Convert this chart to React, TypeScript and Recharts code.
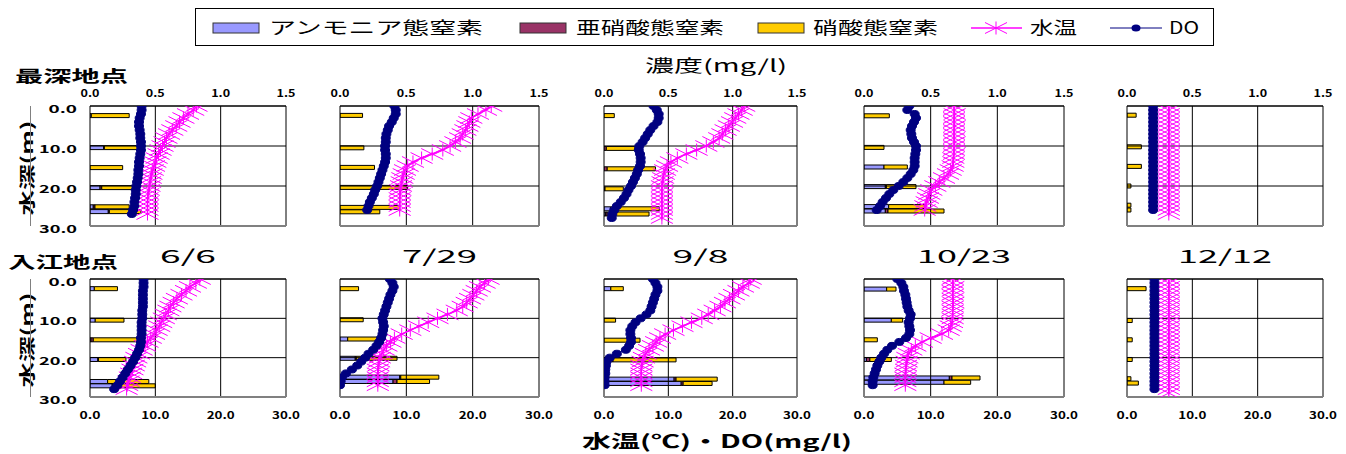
import React from 'react';
import { ComposedChart, Bar, Line, XAxis, YAxis, ReferenceLine } from 'recharts';

// depth (m) of the CTD profile points, shared by every panel
const profileDepth = [0, 1, 2, 3, 4, 5, 6, 7, 8, 9, 10, 11, 12, 13, 14, 15, 16, 17, 18, 19, 20, 21, 22, 23, 24, 25, 26, 27, 28, 29];

const dates = ['6/6', '7/29', '9/8', '10/23', '12/12'];
const concTicks = [0, 0.5, 1.0, 1.5];
const tempTicks = [0, 10, 20, 30];
const depthTicks = [0, 10, 20, 30];

// 最深地点 : 水温 / DO
const deepTemp0606 = [16.3, 15.8, 15.0, 14.3, 13.7, 13.2, 12.6, 12.1, 11.7, 11.4, 11.1, 10.8, 10.5, 10.2, 10.0, 9.8, 9.6, 9.4, 9.3, 9.2, 9.1, 9.0, 8.9, 8.8, 8.8, 8.8, 8.8, 8.8];
const deepDO0606 = [7.9, 7.9, 7.8, 7.6, 7.5, 7.5, 7.6, 7.7, 7.7, 7.8, 7.8, 7.8, 7.7, 7.6, 7.5, 7.5, 7.4, 7.4, 7.3, 7.2, 7.1, 7.0, 7.0, 6.9, 6.8, 6.8, 6.6, 6.4];
const deepTemp0729 = [22.8, 22.0, 20.8, 19.8, 19.5, 19.2, 18.9, 18.5, 18.1, 17.4, 16.6, 15.5, 13.9, 12.3, 11.0, 10.2, 9.8, 9.6, 9.4, 9.3, 9.2, 9.1, 9.0, 9.0, 9.0, 9.0, 9.0];
const deepDO0729 = [8.2, 8.4, 8.4, 8.1, 7.8, 7.4, 7.2, 7.0, 6.9, 6.9, 6.8, 6.8, 6.9, 6.9, 6.8, 6.6, 6.4, 6.2, 6.0, 5.8, 5.6, 5.3, 5.1, 4.8, 4.5, 4.3, 4.1];
const deepTemp0908 = [21.8, 21.4, 20.9, 20.4, 19.9, 19.4, 18.9, 18.4, 17.9, 17.0, 15.9, 14.4, 12.8, 11.4, 10.4, 9.8, 9.5, 9.3, 9.2, 9.1, 9.0, 9.0, 9.0, 9.0, 9.0, 9.0, 9.0, 9.0, 9.0];
const deepDO0908 = [7.7, 8.2, 8.5, 8.5, 8.3, 7.7, 7.2, 6.8, 6.4, 6.0, 5.5, 5.4, 5.6, 5.7, 5.7, 5.6, 5.3, 5.1, 4.8, 4.5, 4.2, 3.8, 3.5, 3.1, 2.6, 2.0, 1.6, 1.3, 1.2];
const deepTemp1023 = [13.5, 13.5, 13.6, 13.5, 13.5, 13.6, 13.5, 13.5, 13.5, 13.6, 13.5, 13.5, 13.5, 13.4, 13.4, 13.3, 13.0, 12.6, 12.0, 11.3, 10.7, 10.1, 9.8, 9.6, 9.4, 9.2, 9.1];
const deepDO1023 = [6.8, 6.5, 7.6, 7.8, 7.5, 7.2, 7.0, 7.1, 7.2, 7.5, 7.8, 7.8, 7.7, 7.6, 7.6, 7.6, 7.4, 7.0, 6.5, 5.9, 5.2, 4.4, 3.8, 3.3, 2.8, 2.4, 1.9];
const deepTemp1212 = [6.4, 6.4, 6.4, 6.4, 6.4, 6.4, 6.4, 6.4, 6.4, 6.4, 6.4, 6.4, 6.4, 6.4, 6.4, 6.4, 6.4, 6.4, 6.4, 6.4, 6.4, 6.4, 6.4, 6.4, 6.4, 6.4, 6.4, 6.4];
const deepDO1212 = [4.0, 4.0, 4.0, 4.0, 4.0, 4.0, 4.0, 4.0, 4.0, 4.0, 4.0, 4.0, 4.0, 4.0, 4.0, 4.0, 4.0, 4.0, 4.0, 4.0, 4.0, 4.0, 4.0, 4.0, 4.0, 4.0, 4.0];

// 入江地点 : 水温 / DO
const bayTemp0606 = [16.8, 16.2, 15.3, 14.7, 14.0, 13.3, 12.8, 12.3, 12.0, 11.6, 11.3, 10.9, 10.6, 10.2, 9.8, 9.3, 8.8, 8.4, 7.9, 7.5, 7.1, 6.9, 6.7, 6.5, 6.3, 6.1, 5.9, 5.7, 5.6];
const bayDO0606 = [8.2, 8.2, 8.2, 8.1, 8.1, 8.1, 8.1, 8.1, 8.0, 8.0, 8.0, 7.9, 7.9, 7.9, 7.9, 7.8, 7.8, 7.7, 7.5, 7.2, 6.9, 6.6, 6.2, 5.8, 5.4, 5.0, 4.6, 4.2, 3.7];
const bayTemp0729 = [22.4, 21.8, 21.1, 20.6, 20.1, 19.6, 19.1, 18.5, 17.6, 16.2, 14.7, 13.3, 11.9, 10.6, 9.3, 8.2, 7.6, 7.0, 6.6, 6.3, 6.0, 5.9, 5.8, 5.7, 5.7, 5.7, 5.7, 5.7];
const bayDO0729 = [7.5, 7.9, 8.1, 7.9, 7.6, 7.4, 7.2, 7.0, 6.8, 6.6, 6.4, 6.5, 6.6, 6.5, 6.4, 6.2, 5.9, 5.5, 5.0, 4.3, 3.8, 3.2, 2.6, 1.8, 0.9, 0.3, 0.1, 0.0];
const bayTemp0908 = [22.8, 22.5, 21.6, 20.9, 20.2, 19.5, 18.8, 18.1, 17.2, 16.2, 15.2, 13.6, 12.2, 10.8, 9.5, 8.7, 8.1, 7.6, 7.0, 6.5, 6.2, 6.0, 5.8, 5.8, 5.8, 5.8, 5.8, 5.8];
const bayDO0908 = [7.6, 8.0, 8.3, 8.3, 8.0, 7.8, 7.6, 7.4, 7.2, 6.6, 5.7, 4.9, 4.4, 4.1, 4.1, 4.2, 4.2, 3.9, 3.4, 2.0, 0.9, 0.4, 0.3, 0.2, 0.2, 0.1, 0.1, 0.1];
const bayTemp1023 = [13.3, 13.3, 13.4, 13.3, 13.3, 13.3, 13.4, 13.3, 13.3, 13.3, 13.3, 13.2, 13.0, 12.7, 11.7, 10.0, 8.7, 7.7, 7.1, 6.7, 6.5, 6.4, 6.3, 6.3, 6.2, 6.2, 6.2, 6.2];
const bayDO1023 = [5.0, 5.6, 5.9, 6.0, 6.2, 6.3, 6.4, 6.5, 6.7, 7.0, 6.9, 6.7, 6.8, 6.9, 6.8, 6.3, 5.3, 4.2, 3.5, 3.0, 2.6, 2.3, 2.0, 1.8, 1.6, 1.4, 1.3, 1.3];
const bayTemp1212 = [6.4, 6.4, 6.4, 6.4, 6.4, 6.4, 6.4, 6.4, 6.4, 6.4, 6.4, 6.4, 6.4, 6.4, 6.4, 6.4, 6.4, 6.4, 6.4, 6.4, 6.4, 6.4, 6.4, 6.4, 6.4, 6.4, 6.4, 6.4, 6.4, 6.4];
const bayDO1212 = [4.2, 4.2, 4.2, 4.2, 4.2, 4.2, 4.2, 4.2, 4.2, 4.2, 4.2, 4.2, 4.2, 4.2, 4.2, 4.2, 4.2, 4.2, 4.2, 4.2, 4.2, 4.2, 4.2, 4.2, 4.2, 4.2, 4.2, 4.2, 4.2];

// 窒素 (mg/l) : sampling depth, アンモニア態 / 亜硝酸態 / 硝酸態
const deepBarDepth0606 = [2.5, 10.5, 15.5, 20.5, 25.3, 26.5];
const deepNH4_0606 = [0.01, 0.105, 0, 0.077, 0.025, 0.14];
const deepNO2_0606 = [0, 0.005, 0, 0.013, 0.013, 0.008];
const deepNO3_0606 = [0.29, 0.255, 0.25, 0.24, 0.262, 0.242];
const deepBarDepth0729 = [2.4, 10.5, 15.4, 20.4, 25.4, 26.5];
const deepNH4_0729 = [0, 0, 0, 0, 0, 0];
const deepNO2_0729 = [0, 0, 0, 0, 0, 0];
const deepNO3_0729 = [0.17, 0.18, 0.26, 0.51, 0.45, 0.3];
const deepBarDepth0908 = [2.3, 10.5, 15.6, 20.6, 25.6, 26.9];
const deepNH4_0908 = [0, 0, 0, 0, 0.05, 0.013];
const deepNO2_0908 = [0, 0.018, 0.025, 0.008, 0, 0.012];
const deepNO3_0908 = [0.08, 0.222, 0.375, 0.142, 0.38, 0.325];
const deepBarDepth1023 = [2.5, 10.4, 15.3, 20.2, 25.2, 26.3];
const deepNH4_1023 = [0, 0, 0.15, 0.16, 0.185, 0.16];
const deepNO2_1023 = [0, 0, 0, 0.008, 0, 0.02];
const deepNO3_1023 = [0.19, 0.15, 0.175, 0.222, 0.27, 0.42];
const deepBarDepth1212 = [2.4, 10.3, 15.2, 20.1, 24.9, 26.1];
const deepNH4_1212 = [0, 0, 0, 0, 0, 0];
const deepNO2_1212 = [0, 0, 0, 0, 0, 0];
const deepNO3_1212 = [0.07, 0.11, 0.11, 0.03, 0.03, 0.03];

const bayBarDepth0606 = [2.5, 10.5, 15.5, 20.5, 26.1, 27.2];
const bayNH4_0606 = [0.033, 0.04, 0.008, 0.06, 0.135, 0.17];
const bayNO2_0606 = [0, 0, 0.017, 0.005, 0, 0.005];
const bayNO3_0606 = [0.177, 0.22, 0.34, 0.21, 0.315, 0.325];
const bayBarDepth0729 = [2.5, 10.4, 15.3, 20.2, 25.0, 26.1];
const bayNH4_0729 = [0, 0, 0.058, 0.115, 0.45, 0.4];
const bayNO2_0729 = [0, 0, 0, 0.008, 0.008, 0.03];
const bayNO3_0729 = [0.14, 0.175, 0.222, 0.307, 0.287, 0.245];
const bayBarDepth0908 = [2.5, 10.5, 15.6, 20.6, 25.5, 26.6];
const bayNH4_0908 = [0.053, 0, 0, 0.01, 0.545, 0.6];
const bayNO2_0908 = [0, 0, 0, 0.06, 0.015, 0.015];
const bayNO3_0908 = [0.097, 0.09, 0.28, 0.49, 0.32, 0.225];
const bayBarDepth1023 = [2.6, 10.5, 15.5, 20.5, 25.2, 26.3];
const bayNH4_1023 = [0.17, 0.205, 0, 0.018, 0.64, 0.6];
const bayNO2_1023 = [0, 0, 0, 0.026, 0.02, 0];
const bayNO3_1023 = [0.07, 0.085, 0.1, 0.161, 0.21, 0.2];
const bayBarDepth1212 = [2.5, 10.6, 15.5, 20.5, 25.4, 26.5];
const bayNH4_1212 = [0, 0, 0, 0, 0, 0];
const bayNO2_1212 = [0, 0, 0, 0, 0, 0];
const bayNO3_1212 = [0.146, 0.04, 0.04, 0.04, 0.03, 0.087];

const legendItems = ['アンモニア態窒素', '亜硝酸態窒素', '硝酸態窒素', '水温', 'DO'];

const C_NH4 = '#9999FF';
const C_NO2 = '#993366';
const C_NO3 = '#FFCC00';
const C_TEMP = '#FF00FF';
const C_DO = '#000080';
const FONT = "'Noto Sans CJK JP', 'Noto Sans', sans-serif";

type Row = { depth?: number; temp?: number; do?: number; barDepth?: number; nh4?: number; no2?: number; no3?: number };

function buildRows(temp: number[], dox: number[], barDepth: number[], nh4: number[], no2: number[], no3: number[]): Row[] {
  const rows: Row[] = [];
  const n = Math.max(temp.length, dox.length);
  for (let i = 0; i < n; i++) rows.push({ depth: profileDepth[i], temp: temp[i], do: dox[i] });
  barDepth.forEach((d, i) => rows.push({ barDepth: d, nh4: nh4[i], no2: no2[i], no3: no3[i] }));
  return rows;
}

const panels: Row[][][] = [
  [
    buildRows(deepTemp0606, deepDO0606, deepBarDepth0606, deepNH4_0606, deepNO2_0606, deepNO3_0606),
    buildRows(deepTemp0729, deepDO0729, deepBarDepth0729, deepNH4_0729, deepNO2_0729, deepNO3_0729),
    buildRows(deepTemp0908, deepDO0908, deepBarDepth0908, deepNH4_0908, deepNO2_0908, deepNO3_0908),
    buildRows(deepTemp1023, deepDO1023, deepBarDepth1023, deepNH4_1023, deepNO2_1023, deepNO3_1023),
    buildRows(deepTemp1212, deepDO1212, deepBarDepth1212, deepNH4_1212, deepNO2_1212, deepNO3_1212),
  ],
  [
    buildRows(bayTemp0606, bayDO0606, bayBarDepth0606, bayNH4_0606, bayNO2_0606, bayNO3_0606),
    buildRows(bayTemp0729, bayDO0729, bayBarDepth0729, bayNH4_0729, bayNO2_0729, bayNO3_0729),
    buildRows(bayTemp0908, bayDO0908, bayBarDepth0908, bayNH4_0908, bayNO2_0908, bayNO3_0908),
    buildRows(bayTemp1023, bayDO1023, bayBarDepth1023, bayNH4_1023, bayNO2_1023, bayNO3_1023),
    buildRows(bayTemp1212, bayDO1212, bayBarDepth1212, bayNH4_1212, bayNO2_1212, bayNO3_1212),
  ],
];

// plot-area placement of the 5 columns / 2 rows
const colX = [90, 340, 604, 864, 1127];
const colW = [196, 199, 193, 200, 196];
const rowY = [106, 279];
const rowH = [120, 118];

const Star = ({ cx, cy, s = 1 }: { cx: number; cy: number; s?: number }) => (
  <g stroke={C_TEMP} strokeWidth={1}>
    <line x1={cx - 11 * s} y1={cy - 5.5 * s} x2={cx + 11 * s} y2={cy + 5.5 * s} />
    <line x1={cx - 11 * s} y1={cy + 5.5 * s} x2={cx + 11 * s} y2={cy - 5.5 * s} />
    <line x1={cx} y1={cy - 6.5 * s} x2={cx} y2={cy + 6.5 * s} />
  </g>
);

const bad = (p: any) => p.cx == null || p.cy == null || p.value == null || isNaN(p.cx) || isNaN(p.cy);

const renderStar = (p: any) =>
  bad(p) ? <g key={`s${p.index}`} /> : <g key={`s${p.index}`}><Star cx={p.cx} cy={p.cy} /></g>;

const renderDot = (p: any) =>
  bad(p) ? <g key={`d${p.index}`} /> : (
    <ellipse key={`d${p.index}`} cx={p.cx} cy={p.cy} rx={4.5} ry={3.5} fill={C_DO} stroke={C_DO} />
  );

const fmt = (v: number) => v.toFixed(1);

const ConcTick = (p: any) => {
  const s = fmt(p.payload.value);
  return (
    <text x={p.x} y={p.y - 9} textAnchor="middle" fontSize={10} fontWeight="bold" fontFamily={FONT} fill="#000"
      textLength={s.length * 6.3} lengthAdjust="spacingAndGlyphs">{s}</text>
  );
};

const TempTick = (p: any) => {
  const s = fmt(p.payload.value);
  return (
    <text x={p.x} y={p.y + 22} textAnchor="middle" fontSize={10} fontWeight="bold" fontFamily={FONT} fill="#000"
      textLength={s.length * 7} lengthAdjust="spacingAndGlyphs">{s}</text>
  );
};

// y tick labels: right edge 13px left of the plot area
const makeDepthTick = (plotLeft: number) => (p: any) => {
  const s = fmt(p.payload.value);
  return (
    <text x={plotLeft - 13} y={p.y + 7} textAnchor="end" fontSize={11} fontWeight="bold" fontFamily={FONT} fill="#000"
      textLength={s.length * 9.5} lengthAdjust="spacingAndGlyphs">{s}</text>
  );
};

function Panel({ data, row, col }: { data: Row[]; row: number; col: number }) {
  const yW = col === 0 ? 60 : 1;
  const padL = col === 0 ? 0 : 20;
  const padR = 18;
  const padT = 4;
  const padB = row === 0 ? 12 : 4;
  const topH = row === 0 ? 26 : 1;
  const botH = row === 1 ? 28 : 2;
  return (
    <div style={{ position: 'absolute', left: colX[col] - yW - padL, top: rowY[row] - topH - padT }}>
      <ComposedChart
        layout="vertical"
        width={padL + yW + colW[col] + padR}
        height={padT + topH + rowH[row] + botH + padB}
        data={data}
        margin={{ top: padT, left: padL, right: padR, bottom: padB }}
      >
        <XAxis xAxisId="c" type="number" orientation="top" domain={[0, 1.5]} ticks={concTicks} height={topH}
          tick={row === 0 ? ConcTick : false} tickLine={false} tickSize={0} tickMargin={0} interval={0}
          axisLine={{ stroke: '#000' }} allowDataOverflow />
        <XAxis xAxisId="t" type="number" orientation="bottom" domain={[0, 30]} ticks={tempTicks} height={botH}
          tick={row === 1 ? TempTick : false} tickLine={false} tickSize={0} tickMargin={0} interval={0}
          axisLine={{ stroke: '#808080', strokeWidth: 2 }} allowDataOverflow />
        <YAxis yAxisId="d" type="number" dataKey="depth" domain={[0, 30]} ticks={depthTicks} width={yW}
          tick={col === 0 ? makeDepthTick(padL + yW) : false} tickLine={false} tickSize={0} tickMargin={0} interval={0}
          axisLine={{ stroke: '#808080', strokeWidth: 2 }} allowDataOverflow />
        <YAxis yAxisId="b" type="number" dataKey="barDepth" domain={[0, 30]} hide allowDataOverflow />
        {tempTicks.map((v) => (
          <ReferenceLine key={`x${v}`} xAxisId="t" yAxisId="d" x={v} stroke="#000" strokeWidth={1} />
        ))}
        {depthTicks.map((v) => (
          <ReferenceLine key={`y${v}`} xAxisId="t" yAxisId="d" y={v} stroke="#000" strokeWidth={1} />
        ))}
        <Bar xAxisId="c" yAxisId="b" dataKey="nh4" stackId="n" fill={C_NH4} stroke="#000" strokeWidth={1} barSize={4} isAnimationActive={false} />
        <Bar xAxisId="c" yAxisId="b" dataKey="no2" stackId="n" fill={C_NO2} stroke="#000" strokeWidth={1} barSize={4} isAnimationActive={false} />
        <Bar xAxisId="c" yAxisId="b" dataKey="no3" stackId="n" fill={C_NO3} stroke="#000" strokeWidth={1} barSize={4} isAnimationActive={false} />
        <Line xAxisId="t" yAxisId="d" type="linear" dataKey="temp" stroke={C_TEMP} strokeWidth={1.5} dot={renderStar}
          connectNulls isAnimationActive={false} />
        <Line xAxisId="t" yAxisId="d" type="linear" dataKey="do" stroke={C_DO} strokeWidth={1} dot={renderDot}
          connectNulls isAnimationActive={false} />
      </ComposedChart>
    </div>
  );
}

function Overlay() {
  const swX = [213, 520, 758];
  const swC = [C_NH4, C_NO2, C_NO3];
  const txtX = [269, 576, 813, 1030, 1169];
  const txtW = [214, 148, 125, 47, 30];
  const dateW = [56, 75, 56, 94, 94];
  return (
    <svg width={1346} height={454} style={{ position: 'absolute', left: 0, top: 0, pointerEvents: 'none' }}>
      <rect x={195.5} y={8.5} width={1018} height={37} fill="#fff" stroke="#000" strokeWidth={1} />
      {swX.map((x, i) => (
        <rect key={i} x={x} y={23} width={46} height={10} fill={swC[i]} stroke="#333" strokeWidth={1} />
      ))}
      <line x1={971} y1={28} x2={1022} y2={28} stroke={C_TEMP} strokeWidth={1.5} />
      <Star cx={996} cy={28} s={1} />
      <line x1={1110} y1={28} x2={1162} y2={28} stroke={C_DO} strokeWidth={1} />
      <ellipse cx={1136} cy={28} rx={4.5} ry={3.5} fill={C_DO} />
      {legendItems.map((t, i) => (
        <text key={t} x={txtX[i]} y={34} fontSize={17} fontFamily={FONT} fill="#000"
          textLength={txtW[i]} lengthAdjust="spacingAndGlyphs">{t}</text>
      ))}

      <text x={716} y={72} textAnchor="middle" fontSize={17} fontFamily={FONT} fill="#000"
        textLength={142} lengthAdjust="spacingAndGlyphs">濃度(mg/l)</text>
      <text x={15} y={82} fontSize={16} fontWeight="bold" fontFamily={FONT} fill="#000"
        textLength={113} lengthAdjust="spacingAndGlyphs">最深地点</text>
      <text x={8} y={268} fontSize={16} fontWeight="bold" fontFamily={FONT} fill="#000"
        textLength={110} lengthAdjust="spacingAndGlyphs">入江地点</text>
      {dates.map((d, i) => (
        <text key={d} x={colX[i] + colW[i] / 2} y={263} textAnchor="middle" fontSize={18} fontFamily={FONT} fill="#000"
          textLength={dateW[i]} lengthAdjust="spacingAndGlyphs">{d}</text>
      ))}
      {rowY.map((y, r) => (
        <text key={r} transform={`translate(33,${y + rowH[r] / 2 + 2}) rotate(-90)`} textAnchor="middle" fontSize={16}
          fontWeight="bold" fontFamily={FONT} fill="#000" textLength={95} lengthAdjust="spacingAndGlyphs">水深(m)</text>
      ))}
      <text x={717} y={448} textAnchor="middle" fontSize={18} fontWeight="bold" fontFamily={FONT} fill="#000"
        textLength={270} lengthAdjust="spacingAndGlyphs">水温(℃)・DO(mg/l)</text>
    </svg>
  );
}

export default function App() {
  return (
    <div style={{ position: 'absolute', left: 0, top: 0, width: 1346, height: 454, background: '#fff', overflow: 'hidden' }}>
      <Overlay />
      {panels.map((rowPanels, r) =>
        rowPanels.map((data, c) => <Panel key={`${r}-${c}`} data={data} row={r} col={c} />)
      )}
    </div>
  );
}
